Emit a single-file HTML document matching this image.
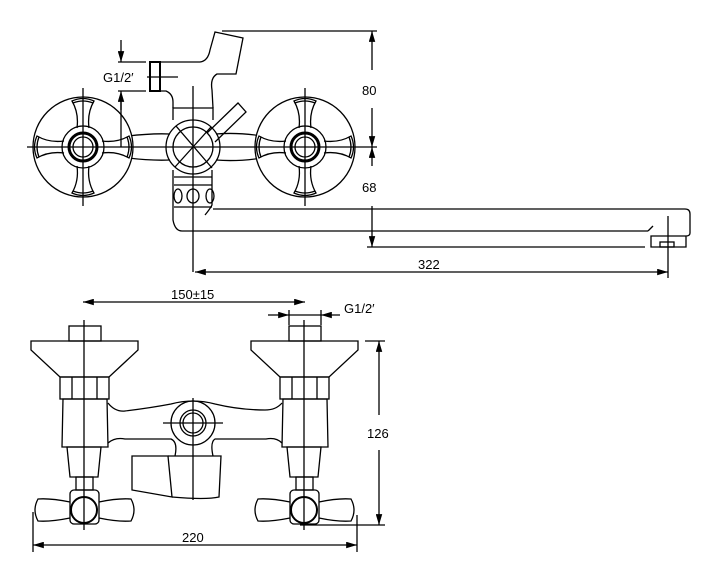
<!DOCTYPE html>
<html><head><meta charset="utf-8"><style>
html,body{margin:0;padding:0;background:#fff;}
svg{display:block;}
text{font-family:"Liberation Sans",sans-serif;font-size:13px;fill:#000;}
</style></head><body>
<svg width="720" height="578" viewBox="0 0 720 578" xmlns="http://www.w3.org/2000/svg" fill="none" stroke="#000" stroke-width="1.3">
<defs>
<marker id="a" viewBox="0 0 10 6" refX="10" refY="3" markerWidth="9" markerHeight="5" orient="auto-start-reverse"><path d="M0,0L10,3L0,6z" fill="#000" stroke="none"/></marker>
<g id="arm"><path d="M-6,-19 Q-4,-34 -11,-46 Q0,-51 11,-46 Q4,-34 6,-19"/><path d="M-10,-44 Q0,-48 10,-44"/></g>
<g id="knob">
<circle r="50" fill="#fff"/>
<circle r="21"/>
<circle r="14" stroke-width="3"/>
<circle r="10"/>
<use href="#arm"/><use href="#arm" transform="rotate(90)"/><use href="#arm" transform="rotate(180)"/><use href="#arm" transform="rotate(270)"/>
</g>
</defs>

<!-- TOP VIEW -->
<path d="M120,137 Q150,133 170,134 M120,157 Q150,161 170,160 M216,134 Q240,132 268,137 M216,160 Q240,162 268,157"/>
<use href="#knob" x="83" y="147"/>
<use href="#knob" x="305" y="147"/>
<circle cx="193" cy="147" r="27"/>
<circle cx="193" cy="147" r="20"/>
<line x1="176" y1="126" x2="212" y2="168"/>
<line x1="175" y1="167" x2="211" y2="127"/>
<path d="M207,133 L238,103 L246,112 L215,142"/>
<path d="M173,120 L173,108 L213,108 L213,120"/>
<path d="M160,62 L200,62 Q208,61 210,50 L215,32 L243,38 L236,74 L217,74 Q210,78 212,90 L213,108"/>
<path d="M160,91 L166,91 Q173,94 173,102 L173,108"/>
<rect x="150" y="62" width="10" height="29" stroke-width="2"/>
<path d="M173,170 L173,220 Q175,231 182,231 L648,231 M212,170 L212,205 Q210,209 205,215"/>
<path d="M174,177 L212,177 M174,185 L212,185 M174,207 L212,207"/>
<ellipse cx="178" cy="196" rx="4" ry="7"/><ellipse cx="193" cy="196" rx="6" ry="7"/><ellipse cx="210" cy="196" rx="4" ry="7"/>
<path d="M213,209 L685,209 Q690,209 690,214 L690,233 Q690,236 686,236 L651,236 L651,247 L686,247 L686,236"/>
<path d="M648,231 L653,226"/>
<rect x="660" y="242" width="14" height="5"/>
<line x1="27" y1="147" x2="377" y2="147"/>
<line x1="193" y1="86" x2="193" y2="272"/>
<line x1="83" y1="88" x2="83" y2="206"/>
<line x1="305" y1="88" x2="305" y2="206"/>
<line x1="668" y1="216" x2="668" y2="278"/>
<line x1="121" y1="98" x2="121" y2="147"/>
<line x1="118" y1="62" x2="146" y2="62"/><line x1="118" y1="91" x2="146" y2="91"/>
<line x1="121" y1="40" x2="121" y2="62" marker-end="url(#a)"/>
<line x1="121" y1="110" x2="121" y2="91" marker-end="url(#a)"/>
<line x1="147" y1="77" x2="178" y2="77"/>
<text x="103" y="82" stroke="none">G1/2′</text>
<line x1="222" y1="31" x2="377" y2="31"/>
<line x1="367" y1="247" x2="645" y2="247"/>
<line x1="372" y1="70" x2="372" y2="31" marker-end="url(#a)"/>
<line x1="372" y1="108" x2="372" y2="147" marker-end="url(#a)"/>
<line x1="372" y1="166" x2="372" y2="147" marker-end="url(#a)"/>
<line x1="372" y1="206" x2="372" y2="247" marker-end="url(#a)"/>
<text x="362" y="95" stroke="none">80</text>
<text x="362" y="192" stroke="none">68</text>
<line x1="195" y1="272" x2="668" y2="272" marker-start="url(#a)" marker-end="url(#a)"/>
<text x="418" y="269" stroke="none">322</text>

<!-- BOTTOM VIEW -->
<line x1="83" y1="302" x2="305" y2="302" marker-start="url(#a)" marker-end="url(#a)"/>
<text x="171" y="299" stroke="none">150±15</text>
<line x1="268" y1="315" x2="289" y2="315" marker-end="url(#a)"/>
<line x1="340" y1="315" x2="321" y2="315" marker-end="url(#a)"/>
<line x1="289" y1="310" x2="289" y2="325"/><line x1="321" y1="310" x2="321" y2="325"/>
<line x1="289" y1="315" x2="321" y2="315"/>
<text x="344" y="313" stroke="none">G1/2′</text>

<g id="valve">
<rect x="69" y="326" width="32" height="15"/>
<path d="M31,341 L138,341 L138,350 L109,377 L60,377 L31,350 Z"/>
<rect x="60" y="377" width="49" height="22"/>
<line x1="72" y1="377" x2="72" y2="399"/><line x1="97" y1="377" x2="97" y2="399"/>
<path d="M63,399 L107,399 L108,447 L62,447 Z"/>
<path d="M67,447 L101,447 L98,477 L70,477 Z"/>
<rect x="76" y="477" width="17" height="13"/>
<rect x="70" y="490" width="29" height="34" rx="4"/>
<circle cx="84" cy="510" r="13" stroke-width="2"/>
<path d="M70,502 Q50,498 38,499 Q32,510 38,521 Q50,522 70,518"/>
<path d="M99,502 Q118,498 131,499 Q137,510 131,521 Q118,522 99,518"/>
</g>
<use href="#valve" x="220"/>
<path d="M108,403 Q115,412 125,411 Q150,408 171,404 Q193,398 215,404 Q240,410 265,410 Q276,410 282,403"/>
<path d="M108,443 Q115,437 125,439 L171,439 Q178,442 175,456 M282,443 Q276,437 266,439 L215,439 Q210,442 213,456"/>
<circle cx="193" cy="423" r="22"/><circle cx="193" cy="423" r="13"/><circle cx="193" cy="423" r="10"/>
<line x1="163" y1="423" x2="223" y2="423"/>
<path d="M132,456 L168,456 L172,497 L132,490 Z"/>
<path d="M168,456 L221,456 L219,497 Q206,500 172,497"/>
<line x1="84" y1="320" x2="84" y2="530"/>
<line x1="304" y1="320" x2="304" y2="530"/>
<line x1="193" y1="398" x2="193" y2="500"/>
<line x1="33" y1="512" x2="33" y2="552"/><line x1="357" y1="515" x2="357" y2="552"/>
<line x1="33" y1="545" x2="357" y2="545" marker-start="url(#a)" marker-end="url(#a)"/>
<text x="182" y="542" stroke="none">220</text>
<line x1="365" y1="341" x2="385" y2="341"/><line x1="300" y1="525" x2="385" y2="525"/>
<line x1="379" y1="415" x2="379" y2="341" marker-end="url(#a)"/>
<line x1="379" y1="450" x2="379" y2="525" marker-end="url(#a)"/>
<text x="367" y="438" stroke="none">126</text>
</svg>
</body></html>
